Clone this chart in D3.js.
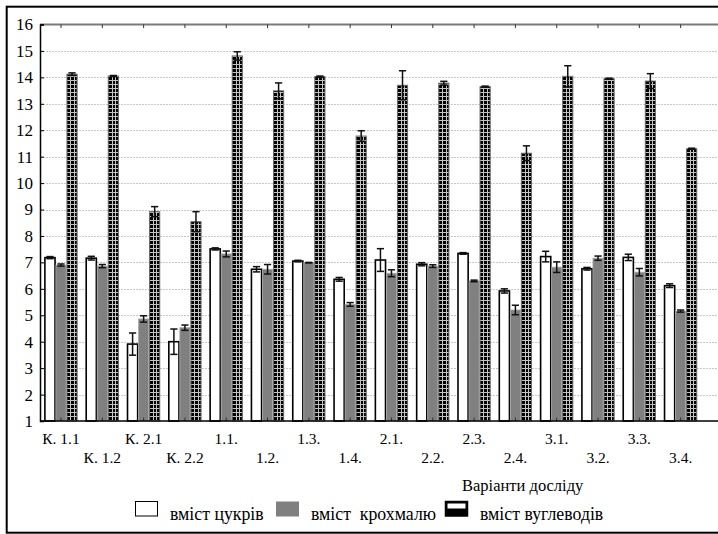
<!DOCTYPE html>
<html>
<head>
<meta charset="utf-8">
<script src="https://cdn.jsdelivr.net/npm/d3@7"></script>
<style>
  html, body { margin: 0; padding: 0; background: #fff; }
  svg { display: block; }
</style>
</head>
<body>
<svg id="chart" width="718" height="534"></svg>
<script>
const categories = ["К. 1.1","К. 1.2","К. 2.1","К. 2.2","1.1.","1.2.","1.3.","1.4.","2.1.","2.2.","2.3.","2.4.","3.1.","3.2.","3.3.","3.4."];
const seriesNames = ["вміст цукрів", "вміст  крохмалю", "вміст вуглеводів"];
const sugar     = [7.18,7.16,3.91,4.00,7.51,6.74,7.05,6.36,7.09,6.93,7.34,5.92,7.22,6.76,7.19,6.12];
const sugarErr  = [0.04,0.07,0.42,0.48,0.04,0.10,0.03,0.07,0.43,0.06,0.03,0.08,0.20,0.05,0.12,0.07];
const starch    = [6.90,6.86,4.86,4.53,7.32,6.74,6.99,5.41,6.59,6.86,6.30,5.20,6.82,7.16,6.63,5.16];
const starchErr = [0.04,0.06,0.12,0.10,0.11,0.18,0.01,0.07,0.13,0.05,0.03,0.18,0.20,0.08,0.14,0.04];
const carbs     = [14.12,14.05,8.92,8.54,14.81,13.49,14.03,11.78,13.70,13.78,13.65,11.13,14.04,13.95,13.86,11.30];
const carbsErr  = [0.05,0.02,0.19,0.38,0.16,0.30,0.02,0.20,0.55,0.07,0.02,0.28,0.40,0.02,0.28,0.02];
const yTicks = [1,2,3,4,5,6,7,8,9,10,11,12,13,14,15,16];
const xTitle = "Варіанти досліду";

const FONT = '"Liberation Serif", "Times New Roman", serif';
const svg = d3.select("#chart");
const plotLeft = 40, plotRight = 718, plotTop = 24.5, plotBottom = 421;

const y = d3.scaleLinear().domain([1, 16]).range([plotBottom, plotTop]);
const x = d3.scaleBand().domain(categories).range([40.35, 701.3]).paddingInner(0.22).paddingOuter(0.11);
const xs = d3.scaleBand().domain([0,1,2]).range([0, x.bandwidth()]).paddingInner(0.08);
const bw = xs.bandwidth();

// horizontal stripe pattern for carbohydrate bars
const defs = svg.append("defs");
const pat = defs.append("pattern")
  .attr("id", "hstripe").attr("patternUnits", "userSpaceOnUse")
  .attr("x", 0).attr("y", 0).attr("width", 8).attr("height", 4);
pat.append("rect").attr("width", 8).attr("height", 4).attr("fill", "#000");
pat.append("rect").attr("x", 0).attr("y", 0).attr("width", 8).attr("height", 1).attr("fill", "#c4c4c4");

// frame
svg.append("rect").attr("x", 6.7).attr("y", 6.7).attr("width", 730).attr("height", 526)
  .attr("fill", "none").attr("stroke", "#000").attr("stroke-width", 2);

// gridlines
svg.append("g").selectAll("line").data(yTicks.filter(d => d > 1 && d < 16)).join("line")
  .attr("x1", plotLeft).attr("x2", plotRight)
  .attr("y1", d => Math.round(y(d)) + 0.5).attr("y2", d => Math.round(y(d)) + 0.5)
  .attr("stroke", "#c8c8c8").attr("stroke-width", 1).attr("stroke-dasharray", "2,1");

const series = [
  {vals: sugar, errs: sugarErr, fill: "#fff", stroke: "#000", sw: 1.6},
  {vals: starch, errs: starchErr, fill: "#808080", stroke: "#a8a8a8", sw: 0.8},
  {vals: carbs, errs: carbsErr, fill: "url(#hstripe)", stroke: "#6a6a6a", sw: 1}
];

const barsG = svg.append("g");
series.forEach((s, si) => {
  barsG.append("g").selectAll("rect").data(categories).join("rect")
    .attr("x", c => x(c) + xs(si))
    .attr("y", (c, i) => y(s.vals[i]))
    .attr("width", bw)
    .attr("height", (c, i) => y(1) - y(s.vals[i]))
    .attr("fill", s.fill).attr("stroke", s.stroke).attr("stroke-width", s.sw);
});

// vertical light grid lines inside the carbohydrate bars
const vg = svg.append("g").attr("stroke", "#c4c4c4").attr("stroke-width", 1);
categories.forEach((c, i) => {
  const bx = x(c) + xs(2);
  [1/3, 2/3].forEach(f => {
    const lx = Math.round(bx + bw * f) + 0.5;
    vg.append("line").attr("x1", lx).attr("x2", lx)
      .attr("y1", y(carbs[i]) + 1).attr("y2", y(1) - 0.5);
  });
});

// error bars
const errG = svg.append("g").attr("stroke", "#111").attr("stroke-width", 1.5).attr("fill", "none");
series.forEach((s, si) => {
  categories.forEach((c, i) => {
    const cx = x(c) + xs(si) + bw/2;
    const hi = y(s.vals[i] + s.errs[i]), lo = y(s.vals[i] - s.errs[i]);
    errG.append("line").attr("x1", cx).attr("x2", cx).attr("y1", hi).attr("y2", lo);
    errG.append("line").attr("x1", cx - 3.6).attr("x2", cx + 3.6).attr("y1", hi).attr("y2", hi);
    errG.append("line").attr("x1", cx - 3.6).attr("x2", cx + 3.6).attr("y1", lo).attr("y2", lo);
  });
});

// top line with ticks
svg.append("line").attr("x1", plotLeft).attr("x2", plotRight).attr("y1", plotTop).attr("y2", plotTop)
  .attr("stroke", "#7a7a7a").attr("stroke-width", 2);
svg.append("g").selectAll("line").data(categories).join("line")
  .attr("x1", c => x(c) + x.bandwidth()/2).attr("x2", c => x(c) + x.bandwidth()/2)
  .attr("y1", plotTop).attr("y2", plotTop + 3.5)
  .attr("stroke", "#333").attr("stroke-width", 1);

// bottom axis
const xAxis = d3.axisBottom(x).tickSize(-3.5).tickFormat("");
const gx = svg.append("g").attr("transform", `translate(0,${plotBottom})`).call(xAxis);
gx.select(".domain").remove();
gx.selectAll(".tick line").attr("stroke", "#333");
svg.append("line").attr("x1", plotLeft).attr("x2", plotRight).attr("y1", plotBottom).attr("y2", plotBottom)
  .attr("stroke", "#000").attr("stroke-width", 1.5);

// x labels (two rows)
svg.append("g").selectAll("text").data(categories).join("text")
  .attr("x", c => x(c) + x.bandwidth()/2)
  .attr("y", (c, i) => i % 2 === 0 ? 444 : 463)
  .attr("text-anchor", "middle")
  .style("font-family", FONT).style("font-size", "15.5px").style("fill", "#000")
  .text(c => c);

// left axis
const yAxis = d3.axisLeft(y).tickValues(yTicks).tickSize(-4).tickPadding(7).tickFormat(d3.format("d"));
const gy = svg.append("g").attr("transform", `translate(${plotLeft},0)`).call(yAxis);
gy.select(".domain").attr("stroke", "#000").attr("stroke-width", 1.5);
gy.selectAll(".tick line").attr("stroke", "#000");
gy.selectAll(".tick text")
  .style("font-family", FONT).style("font-size", "17px").style("fill", "#000");

// x title
svg.append("text").attr("x", 462).attr("y", 491)
  .style("font-family", FONT).style("font-size", "16.5px").style("fill", "#000").text(xTitle);

// legend
const lg = svg.append("g");
lg.append("rect").attr("x", 135.5).attr("y", 501.5).attr("width", 22).attr("height", 14.5)
  .attr("fill", "#fff").attr("stroke", "#000").attr("stroke-width", 1);
lg.append("rect").attr("x", 276).attr("y", 501.5).attr("width", 23).attr("height", 15)
  .attr("fill", "#808080");
lg.append("rect").attr("x", 445.5).attr("y", 501.5).attr("width", 22).attr("height", 14.5)
  .attr("fill", "#000").attr("stroke", "#000").attr("stroke-width", 1.5);
lg.append("rect").attr("x", 447.5).attr("y", 503.5).attr("width", 18).attr("height", 5).attr("fill", "#fff");
const legendX = [170, 311, 480];
lg.selectAll("text.leg").data(seriesNames).join("text").attr("class", "leg")
  .attr("x", (d, i) => legendX[i]).attr("y", 520)
  .style("font-family", FONT).style("font-size", "17.8px").style("fill", "#000")
  .style("white-space", "pre")
  .text(d => d);
</script>
</body>
</html>
